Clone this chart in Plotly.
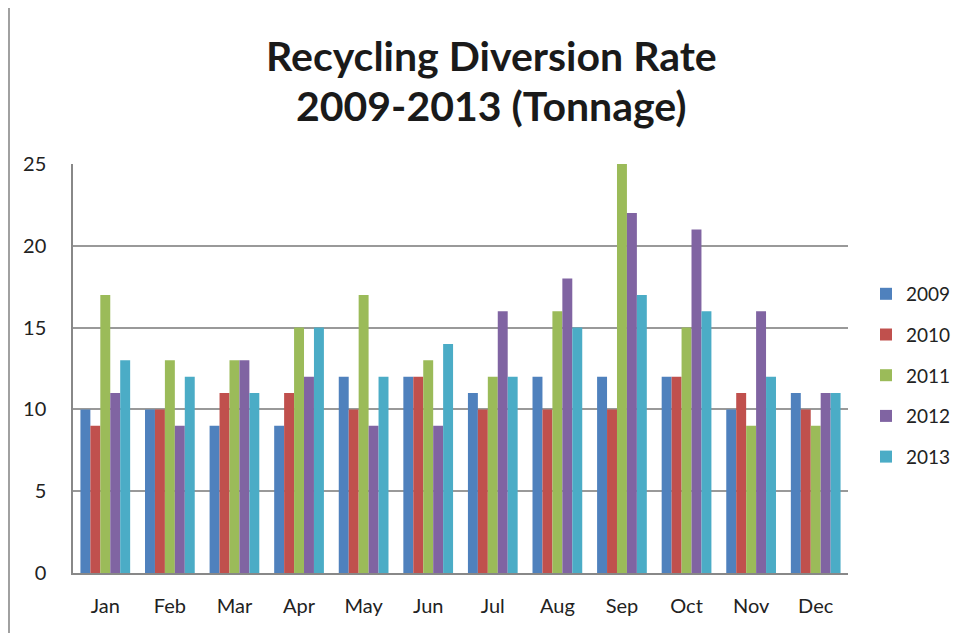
import plotly.graph_objects as go

months = ["Jan", "Feb", "Mar", "Apr", "May", "Jun", "Jul", "Aug", "Sep", "Oct", "Nov", "Dec"]
y2009 = [10, 10, 9, 9, 12, 12, 11, 12, 12, 12, 10, 11]
y2010 = [9, 10, 11, 11, 10, 12, 10, 10, 10, 12, 11, 10]
y2011 = [17, 13, 13, 15, 17, 13, 12, 16, 25, 15, 9, 9]
y2012 = [11, 9, 13, 12, 9, 9, 16, 18, 22, 21, 16, 11]
y2013 = [13, 12, 11, 15, 12, 14, 12, 15, 17, 16, 12, 11]
years = ["2009", "2010", "2011", "2012", "2013"]
series = [y2009, y2010, y2011, y2012, y2013]
colors = ["#4F81BD", "#C0504D", "#9BBB59", "#8064A2", "#4BACC6"]
title_lines = ["Recycling Diversion Rate", "2009-2013 (Tonnage)"]

FONT = "Lato, Open Sans, sans-serif"

fig = go.Figure()
for name, vals, col in zip(years, series, colors):
    fig.add_trace(go.Bar(
        x=months, y=vals, name=name, legendgroup=name,
        marker=dict(color=col, line=dict(width=0)),
    ))

fig.update_layout(
    width=953, height=625,
    paper_bgcolor="white", plot_bgcolor="white",
    margin=dict(l=65, r=113, t=156, b=60, autoexpand=False),
    barmode="group", bargap=0.23, bargroupgap=0,
    font=dict(family=FONT, size=20, color="#222222"),
    legend=dict(
        xref="container", x=0.9003, xanchor="left",
        y=0.483, yanchor="middle",
        font=dict(family=FONT, size=19, color="#222222"),
        tracegroupgap=13, itemwidth=30,
        bgcolor="rgba(0,0,0,0)",
    ),
    xaxis=dict(
        showgrid=False, showline=True, linecolor="#888888", linewidth=2,
        ticks="", tickfont=dict(size=20), ticklabelstandoff=14,
    ),
    yaxis=dict(
        range=[0, 25], dtick=5, showgrid=True, gridcolor="#999999", gridwidth=1.5,
        showline=True, linecolor="#888888", linewidth=1.5,
        ticks="", tickfont=dict(size=20), ticklabelstandoff=21,
        zeroline=False,
    ),
    showlegend=True,
)

for txt, yy in zip(title_lines, [1.2665, 1.144]):
    fig.add_annotation(
        text="<b>" + txt + "</b>", xref="paper", yref="paper",
        x=0.5406, y=yy, xanchor="center", yanchor="middle", showarrow=False,
        font=dict(family=FONT, size=41, color="#1a1a1a"),
    )

# left edge of the chart picture frame
fig.add_shape(type="line", xref="paper", yref="paper",
              x0=-0.0826, x1=-0.0826, y0=-0.2, y1=1.5,
              line=dict(color="#A0A0A0", width=2))

fig.write_html("out.html")
